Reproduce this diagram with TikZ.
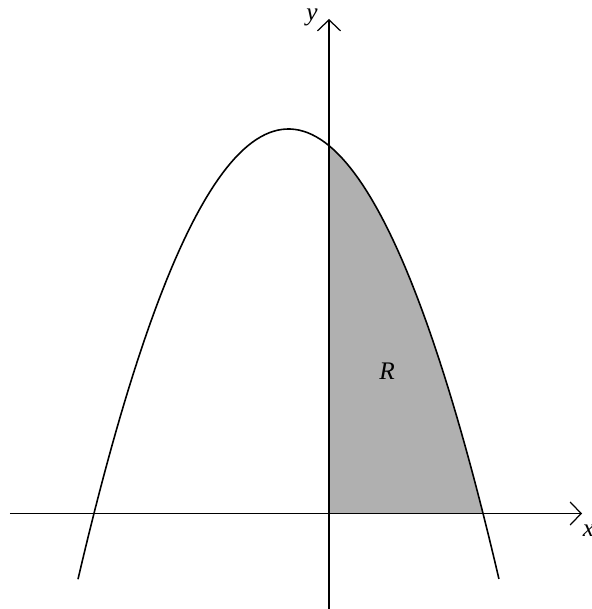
\documentclass[tikz,border=0pt]{standalone}
\usepackage{tikz}
\usepackage{fontspec}
\setmainfont{Liberation Serif}
\usetikzlibrary{arrows.meta}

\begin{document}
\begin{tikzpicture}

\useasboundingbox (-6.58,-1.91) rectangle (5.26,10.27);

% Область R (серая)
\fill[black!31] (0,0) -- plot[domain=0:3.08, samples=60] (\x,{7.69-0.508*(\x+0.81)^2}) -- cycle;

% Оси
\coordinate (xa) at (-6.38,0);
\coordinate (xb) at (5.06,0);
\coordinate (ya) at (0,-1.9);
\coordinate (yb) at (0,9.89);
\draw[-{Straight Barb[length=2.2mm,width=4.6mm]}, line width=0.7pt] (xa) -- (xb);
\draw[-{Straight Barb[length=2.2mm,width=4.6mm]}, line width=0.7pt] (ya) -- (yb);

% Парабола
\draw[line width=0.9pt] plot[domain=-5.02:3.40, samples=100] (\x,{7.69-0.508*(\x+0.81)^2});

% Обозначения
\node[font=\Large\itshape] (lx) at (5.19,-0.34) {x};
\node[font=\Large\itshape] (ly) at (-0.34,9.93) {y};
\node[font=\Large\itshape] (lr) at (1.16,2.85) {R};

\end{tikzpicture}
\end{document}
